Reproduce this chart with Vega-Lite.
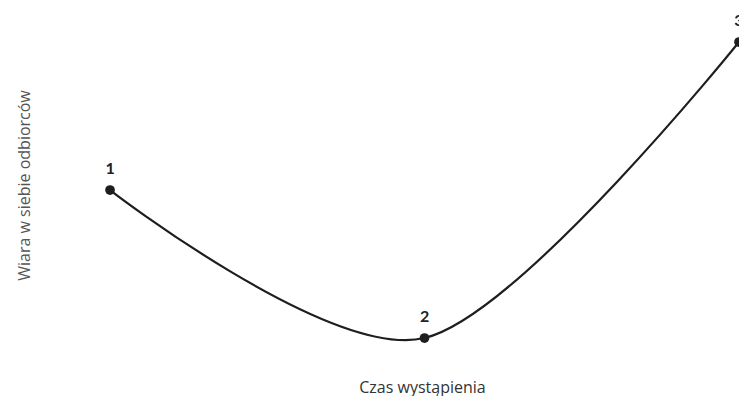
{
  "$schema": "https://vega.github.io/schema/vega-lite/v6.json",
  "width": 634,
  "height": 370,
  "autosize": {"type": "none"},
  "padding": {"left": 105, "top": 0, "right": 0, "bottom": 26},
  "background": "white",
  "config": {
    "view": {"stroke": null},
    "font": "Open Sans",
    "axis": {"domain": false, "ticks": false, "labels": false, "grid": false, "titleFont": "Open Sans", "titleFontWeight": "normal"}
  },
  "data": {
    "values": [
      {"czas": 1, "wiara": 2, "etykieta": "1"},
      {"czas": 2, "wiara": 1, "etykieta": "2"},
      {"czas": 3, "wiara": 3, "etykieta": "3"}
    ]
  },
  "encoding": {
    "x": {"field": "czas", "type": "quantitative", "scale": {"domain": [0.984, 3], "nice": false, "zero": false},
      "axis": {"title": "Czas wystąpienia", "titleFontSize": 16, "titleColor": "#333333", "titlePadding": 9}},
    "y": {"field": "wiara", "type": "quantitative", "scale": {"domain": [0.784, 3.284], "nice": false, "zero": false},
      "axis": {"title": "Wiara w siebie odbiorców", "titleFontSize": 16, "titleColor": "#555555", "titlePadding": 73}}
  },
  "layer": [
    {"mark": {"type": "line", "interpolate": "cardinal", "tension": 0.1, "color": "#1e1e1e", "strokeWidth": 2.2}},
    {"mark": {"type": "point", "filled": true, "color": "#1e1e1e", "size": 95, "opacity": 1}},
    {"mark": {"type": "text", "dy": -21.5, "fontSize": 16, "fontWeight": "bold", "color": "#222222", "font": "Lato"},
      "encoding": {"text": {"field": "etykieta"}}}
  ]
}
